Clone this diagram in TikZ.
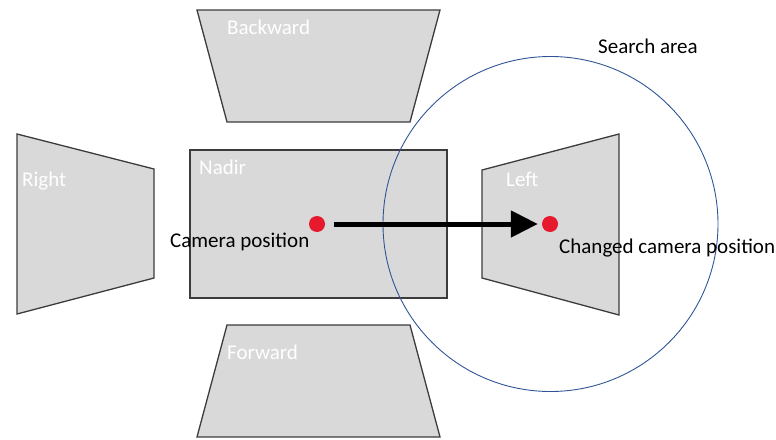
\documentclass[tikz,border=0pt]{standalone}
\usepackage{fontspec}
\setmainfont{Carlito}
\usetikzlibrary{arrows.meta}
\definecolor{viewgray}{RGB}{217,217,217}
\definecolor{edgegray}{RGB}{60,60,60}
\definecolor{areablue}{RGB}{47,85,151}
\definecolor{dotred}{RGB}{230,25,45}
\tikzset{
  view/.style={draw=edgegray, fill=viewgray, line width=1.3pt},
  viewlabel/.style={text=white, anchor=base west, inner sep=0pt},
  txt/.style={text=black, anchor=base west, inner sep=0pt},
  camdot/.style={circle, fill=dotred, inner sep=0pt, minimum size=16pt}
}
\begin{document}
\begin{tikzpicture}[x=1pt, y=-1pt, font=\fontsize{21}{25}\selectfont]
            \useasboundingbox (0,0) rectangle (776,439);
            % Draw views
            \draw[view] (197,10) -- (440,10) -- (410,122) -- (227,122) -- cycle;
            \draw[view] (17,134) -- (154,169) -- (154,278) -- (17,314) -- cycle;
            \draw[view] (190,150) rectangle (447,298);
            \draw[view] (482,170) -- (619,134) -- (619,315) -- (482,278) -- cycle;
            \draw[view] (227,325) -- (410,325) -- (440,437) -- (197,437) -- cycle;
            % search area
            \node[draw=areablue, line width=0.9pt, circle, inner sep=0pt, minimum size=335pt] (area) at (550.5,224) {};
            % camera dots
            \node[camdot] (cam) at (317,224) {};
            \node[camdot] (newcam) at (550,224) {};
            \draw[line width=5pt, -{Triangle[length=27pt,width=26pt]}, shorten <=9pt, shorten >=4pt] (cam) -- (newcam);
            % labels
            \node[viewlabel] (backward) at (227,34) {Backward};
            \node[viewlabel] (right) at (22,186) {Right};
            \node[viewlabel] (nadir) at (199,174) {Nadir};
            \node[viewlabel] (left) at (506,186) {Left};
            \node[viewlabel] (forward) at (227,359) {Forward};
            \node[txt] (camlabel) at (170,247) {Camera position};
            \node[txt] (newcamlabel) at (559,253) {Changed camera position};
            \node[txt] (arealabel) at (598,53) {Search area};
\end{tikzpicture}
\end{document}
